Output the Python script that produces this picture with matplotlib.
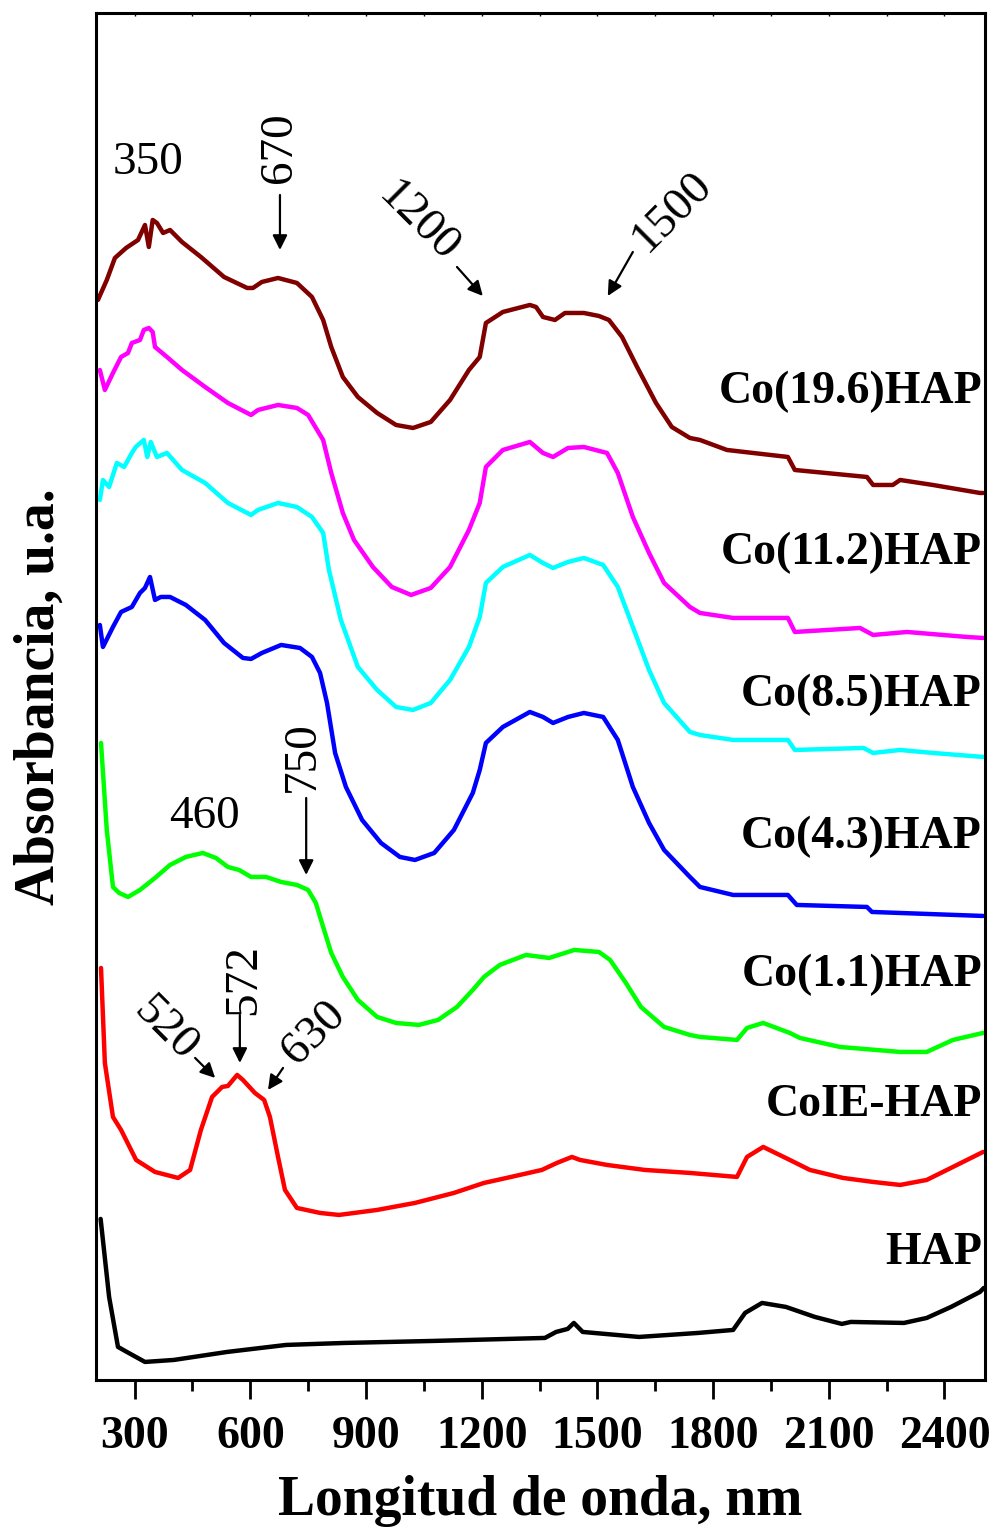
import matplotlib
matplotlib.use("Agg")
import matplotlib.pyplot as plt

plt.rcParams['font.family'] = ['Liberation Serif', 'DejaVu Serif']

# ---- spectra (wavelength nm, absorbance a.u., curves already offset) ----
wl_co196 = [205, 228, 249, 278, 309, 327, 337, 347, 358, 374, 392, 423, 472, 532, 592, 607, 630, 672,
            721, 760, 789, 810, 840, 879, 929, 978, 1022, 1068, 1118, 1167, 1195, 1211, 1255, 1325,
            1341, 1359, 1390, 1416, 1465, 1504, 1530, 1564, 1603, 1652, 1693, 1740, 1766, 1836, 1994,
            2012, 2199, 2215, 2266, 2285, 2370, 2492, 2500]
a_co196 = [1.080, 1.100, 1.122, 1.132, 1.140, 1.155, 1.133, 1.160, 1.157, 1.147, 1.150, 1.138, 1.123,
           1.103, 1.092, 1.092, 1.098, 1.102, 1.097, 1.083, 1.060, 1.033, 1.003, 0.983, 0.967, 0.955,
           0.952, 0.958, 0.980, 1.010, 1.023, 1.057, 1.068, 1.075, 1.073, 1.063, 1.060, 1.067, 1.067,
           1.064, 1.060, 1.043, 1.013, 0.977, 0.953, 0.942, 0.940, 0.930, 0.923, 0.910, 0.903, 0.895,
           0.895, 0.900, 0.895, 0.887, 0.887]

wl_co112 = [210, 223, 244, 265, 283, 293, 314, 324, 337, 347, 353, 384, 423, 483, 542, 602, 620, 672,
            721, 750, 789, 810, 840, 869, 918, 967, 1017, 1068, 1118, 1167, 1195, 1211, 1255, 1325,
            1359, 1385, 1424, 1465, 1525, 1553, 1592, 1634, 1673, 1740, 1766, 1852, 1994, 2012, 2181,
            2215, 2303, 2458, 2500]
a_co112 = [1.010, 0.990, 1.007, 1.023, 1.027, 1.037, 1.040, 1.050, 1.052, 1.048, 1.033, 1.023, 1.010,
           0.993, 0.977, 0.965, 0.970, 0.975, 0.972, 0.965, 0.940, 0.907, 0.867, 0.840, 0.813, 0.793,
           0.785, 0.792, 0.813, 0.850, 0.877, 0.913, 0.930, 0.938, 0.927, 0.923, 0.932, 0.933, 0.927,
           0.907, 0.863, 0.827, 0.797, 0.773, 0.767, 0.762, 0.762, 0.748, 0.752, 0.745, 0.748, 0.743,
           0.742]

wl_co85 = [210, 218, 234, 254, 273, 293, 303, 324, 333, 342, 358, 384, 423, 483, 542, 602, 620, 672,
           721, 760, 789, 804, 835, 879, 929, 978, 1022, 1068, 1118, 1167, 1195, 1211, 1255, 1325,
           1359, 1385, 1424, 1465, 1515, 1553, 1592, 1634, 1673, 1740, 1766, 1852, 1994, 2012, 2190,
           2215, 2285, 2370, 2500]
a_co85 = [0.880, 0.900, 0.893, 0.917, 0.913, 0.927, 0.933, 0.940, 0.923, 0.938, 0.923, 0.927, 0.910,
          0.897, 0.877, 0.865, 0.870, 0.877, 0.873, 0.863, 0.847, 0.810, 0.760, 0.713, 0.690, 0.673,
          0.670, 0.677, 0.700, 0.733, 0.763, 0.797, 0.813, 0.825, 0.817, 0.812, 0.818, 0.822, 0.815,
          0.793, 0.753, 0.710, 0.677, 0.648, 0.645, 0.640, 0.640, 0.630, 0.632, 0.627, 0.630, 0.627,
          0.623]

wl_co43 = [210, 218, 244, 265, 293, 314, 327, 340, 353, 368, 392, 433, 483, 532, 581, 602, 630, 680,
           729, 760, 781, 799, 820, 848, 890, 939, 988, 1027, 1077, 1128, 1177, 1195, 1211, 1255, 1325,
           1359, 1385, 1424, 1465, 1515, 1553, 1592, 1634, 1673, 1740, 1766, 1852, 1994, 2017, 2199,
           2212, 2500]
a_co43 = [0.755, 0.733, 0.753, 0.768, 0.773, 0.787, 0.792, 0.803, 0.780, 0.783, 0.783, 0.775, 0.760,
          0.737, 0.722, 0.721, 0.727, 0.735, 0.732, 0.723, 0.707, 0.677, 0.627, 0.593, 0.560, 0.537,
          0.523, 0.520, 0.527, 0.550, 0.587, 0.610, 0.637, 0.653, 0.668, 0.663, 0.657, 0.663, 0.667,
          0.663, 0.640, 0.593, 0.557, 0.530, 0.503, 0.493, 0.485, 0.485, 0.475, 0.473, 0.468, 0.464]

wl_co11 = [213, 228, 244, 260, 283, 314, 353, 392, 433, 477, 511, 542, 571, 602, 641, 680, 721, 750,
           770, 789, 810, 840, 879, 929, 978, 1037, 1087, 1136, 1177, 1206, 1247, 1315, 1375, 1416,
           1440, 1504, 1533, 1574, 1613, 1673, 1740, 1766, 1862, 1888, 1930, 1999, 2025, 2129, 2285,
           2354, 2422, 2500]
a_co11 = [0.637, 0.550, 0.493, 0.487, 0.483, 0.490, 0.502, 0.515, 0.523, 0.527, 0.522, 0.513, 0.510,
          0.503, 0.503, 0.498, 0.495, 0.490, 0.477, 0.453, 0.427, 0.403, 0.380, 0.363, 0.357, 0.355,
          0.360, 0.373, 0.390, 0.403, 0.415, 0.425, 0.422, 0.427, 0.430, 0.428, 0.420, 0.397, 0.373,
          0.353, 0.345, 0.343, 0.340, 0.352, 0.357, 0.347, 0.342, 0.333, 0.328, 0.328, 0.340, 0.347]

wl_coie = [213, 223, 244, 265, 304, 353, 413, 444, 472, 501, 527, 542, 566, 581, 612, 636, 651, 672,
           690, 721, 781, 830, 929, 1027, 1128, 1206, 1276, 1356, 1395, 1434, 1455, 1525, 1623, 1740,
           1862, 1888, 1930, 1999, 2051, 2137, 2215, 2285, 2354, 2422, 2500]
a_coie = [0.412, 0.317, 0.263, 0.250, 0.220, 0.208, 0.202, 0.210, 0.250, 0.283, 0.293, 0.294, 0.305,
          0.300, 0.287, 0.280, 0.263, 0.223, 0.190, 0.172, 0.167, 0.165, 0.170, 0.177, 0.187, 0.197,
          0.203, 0.210, 0.217, 0.223, 0.220, 0.215, 0.210, 0.207, 0.203, 0.223, 0.233, 0.220, 0.210,
          0.202, 0.198, 0.195, 0.200, 0.213, 0.228]

wl_hap = [212, 234, 257, 280, 327, 402, 540, 693, 845, 1074, 1364, 1393, 1423, 1439, 1462, 1608, 1761,
          1852, 1883, 1927, 1989, 2064, 2134, 2157, 2295, 2354, 2417, 2492, 2502]
a_hap = [0.161, 0.083, 0.033, 0.028, 0.018, 0.020, 0.028, 0.035, 0.037, 0.039, 0.042, 0.048, 0.051,
         0.057, 0.048, 0.043, 0.047, 0.050, 0.067, 0.077, 0.073, 0.063, 0.056, 0.058, 0.057, 0.062,
         0.073, 0.088, 0.092]

series = [
    (wl_co196, a_co196, '#800000', 'Co(19.6)HAP', 0.988),
    (wl_co112, a_co112, '#ff00ff', 'Co(11.2)HAP', 0.827),
    (wl_co85, a_co85, '#00ffff', 'Co(8.5)HAP', 0.685),
    (wl_co43, a_co43, '#0000ff', 'Co(4.3)HAP', 0.543),
    (wl_co11, a_co11, '#00ff00', 'Co(1.1)HAP', 0.405),
    (wl_coie, a_coie, '#ff0000', 'CoIE-HAP', 0.275),
    (wl_hap, a_hap, 'black', 'HAP', 0.127),
]

fig = plt.figure(figsize=(10.02, 15.28), dpi=100)
ax = fig.add_axes([0.0958, 0.0969, 0.8872, 0.8946])

for wl, a, col, name, ylab in series:
    ax.plot(wl, a, color=col, lw=3.2, solid_joinstyle='round', solid_capstyle='round')
    ax.text(2497, ylab, name, ha='right', va='center', fontsize=33, fontweight='bold')

ax.set_xlim(200, 2505)
ax.set_ylim(0, 1.367)
ax.set_xticks(range(300, 2401, 300))
ax.set_xticks(range(450, 2500, 300), minor=True)
ax.set_yticks([])
ax.tick_params(axis='x', which='major', direction='out', length=14, width=2, pad=12,
               labelsize=33, top=False)
ax.tick_params(axis='x', which='minor', direction='out', length=8, width=2, top=False)
for lab in ax.get_xticklabels():
    lab.set_fontweight('bold')
# tiny inward marks on the top spine
sec = ax.secondary_xaxis('top')
sec.set_xticks(range(300, 2401, 300))
sec.set_xticks(range(450, 2500, 300), minor=True)
sec.tick_params(which='both', direction='in', length=2, width=1, labeltop=False)
sec.spines['top'].set_visible(False)

for sp in ax.spines.values():
    sp.set_linewidth(2.2)

ax.set_xlabel('Longitud de onda, nm', fontsize=40, fontweight='bold', labelpad=12)
ax.set_ylabel('Absorbancia, u.a.', fontsize=40, fontweight='bold', labelpad=22)

# ---- peak annotations ----
arrow = dict(arrowstyle='-|>', color='black', lw=1.6, mutation_scale=22, shrinkA=0, shrinkB=0)
fs = 34
ax.text(335, 1.217, '350', fontsize=fs, ha='center', va='center')
ax.text(677, 1.232, '670', fontsize=fs, ha='center', va='center', rotation=90)
ax.annotate('', xy=(677, 1.130), xytext=(677, 1.185), arrowprops=arrow)
ax.text(1035, 1.158, '1200', fontsize=fs, ha='center', va='center', rotation=-45,
        rotation_mode='anchor')
ax.annotate('', xy=(1203, 1.084), xytext=(1136, 1.113), arrowprops=arrow)
ax.text(1693, 1.168, '1500', fontsize=fs, ha='center', va='center', rotation=45,
        rotation_mode='anchor')
ax.annotate('', xy=(1527, 1.084), xytext=(1592, 1.128), arrowprops=arrow)
ax.text(480, 0.563, '460', fontsize=fs, ha='center', va='center')
ax.text(737, 0.623, '750', fontsize=fs, ha='center', va='center', rotation=90)
ax.annotate('', xy=(745, 0.505), xytext=(745, 0.582), arrowprops=arrow)
ax.text(584, 0.400, '572', fontsize=fs, ha='center', va='center', rotation=90)
ax.annotate('', xy=(573, 0.317), xytext=(573, 0.365), arrowprops=arrow)
ax.text(379, 0.351, '520', fontsize=fs, ha='center', va='center', rotation=-45,
        rotation_mode='anchor')
ax.annotate('', xy=(509, 0.302), xytext=(457, 0.322), arrowprops=arrow)
ax.text(765, 0.347, '630', fontsize=fs, ha='center', va='center', rotation=45,
        rotation_mode='anchor')
ax.annotate('', xy=(646, 0.290), xytext=(685, 0.312), arrowprops=arrow)

fig.savefig('out.png', dpi=100)
